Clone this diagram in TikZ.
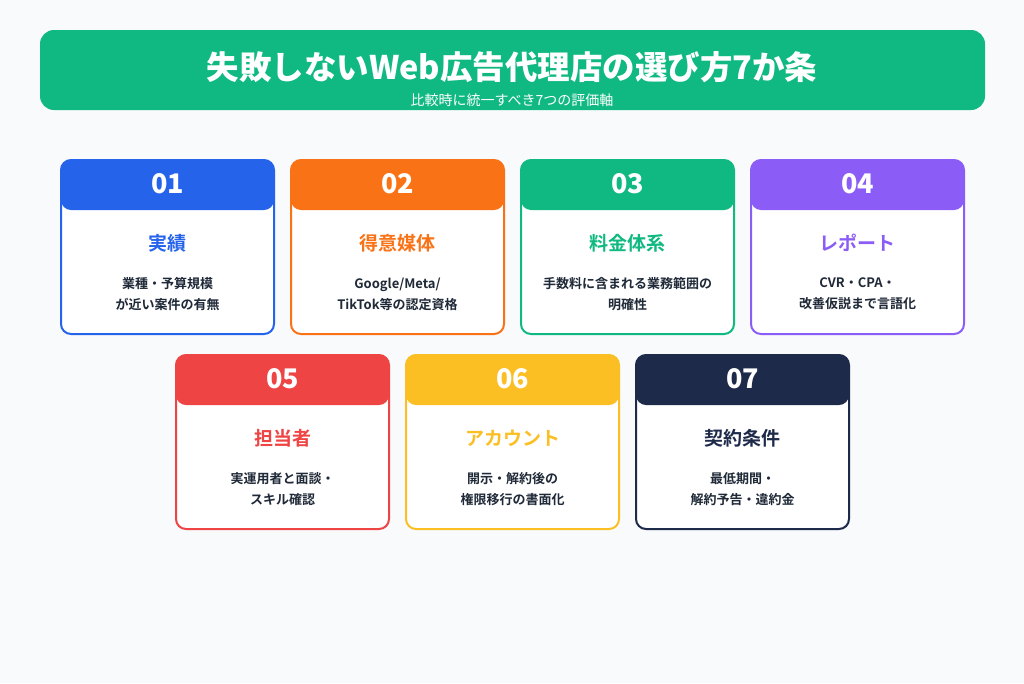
\documentclass[tikz,border=0pt]{standalone}
\usepackage{fontspec}
\setmainfont{Noto Sans CJK JP}[BoldFont={Noto Sans CJK JP Bold}]
\newfontfamily\heavyfont{Noto Sans CJK JP Black}
\usepackage{xcolor}
\definecolor{bgc}{HTML}{F8FAFC}
\definecolor{cblue}{HTML}{2563EB}
\definecolor{corange}{HTML}{F97316}
\definecolor{cgreen}{HTML}{10B981}
\definecolor{cpurple}{HTML}{8B5CF6}
\definecolor{cred}{HTML}{EF4444}
\definecolor{cyellow}{HTML}{FBBF24}
\definecolor{cnavy}{HTML}{1E2A4A}
\definecolor{ctext}{HTML}{1F2937}

\begin{document}
\begin{tikzpicture}[x=1pt, y=-1pt,
    cardbox/.style={draw=#1, line width=2pt, fill=white, rounded corners=10pt},
    cardhead/.style={fill=#1, rounded corners=10pt},
    numtext/.style={text=white, font=\fontsize{27}{29}\selectfont\heavyfont},
    titletext/.style={text=#1, font=\fontsize{19}{22}\selectfont\bfseries},
    bodytext/.style={text=ctext, align=center, font=\fontsize{13}{21}\selectfont\bfseries}]
    \useasboundingbox[fill=bgc] (0,0) rectangle (1024,683);

    % banner
    \fill[cgreen, rounded corners=14pt] (40,30) rectangle (985,110);
    \node[text=white, font=\fontsize{32.5}{34}\selectfont\heavyfont] (title) at (512,67) {失敗しないWeb広告代理店の選び方7か条};
    \node[text=white, font=\fontsize{14}{16}\selectfont] (subtitle) at (512,100) {比較時に統一すべき7つの評価軸};

    % cards
    \foreach \x/\y/\col/\num/\ttl/\body [count=\i] in {
        61/160/cblue/01/実績/{業種・予算規模\\が近い案件の有無},
        291/160/corange/02/得意媒体/{Google/Meta/\\TikTok等の認定資格},
        521/160/cgreen/03/料金体系/{手数料に含まれる業務範囲の\\明確性},
        751/160/cpurple/04/レポート/{CVR・CPA・\\改善仮説まで言語化},
        176/355/cred/05/担当者/{実運用者と面談・\\スキル確認},
        406/355/cyellow/06/アカウント/{開示・解約後の\\権限移行の書面化},
        636/355/cnavy/07/契約条件/{最低期間・\\解約予告・違約金}} {
        \draw[cardbox=\col] (\x,\y) rectangle ++(213,174);
        \fill[cardhead=\col] (\x,\y) rectangle ++(213,50);
        \node[numtext] (num\i) at (\x+106.5,\y+24) {\num};
        \node[titletext=\col] (ttl\i) at (\x+106.5,\y+83) {\ttl};
        \node[bodytext] (body\i) at (\x+106.5,\y+134) {\body};
    }
\end{tikzpicture}
\end{document}
